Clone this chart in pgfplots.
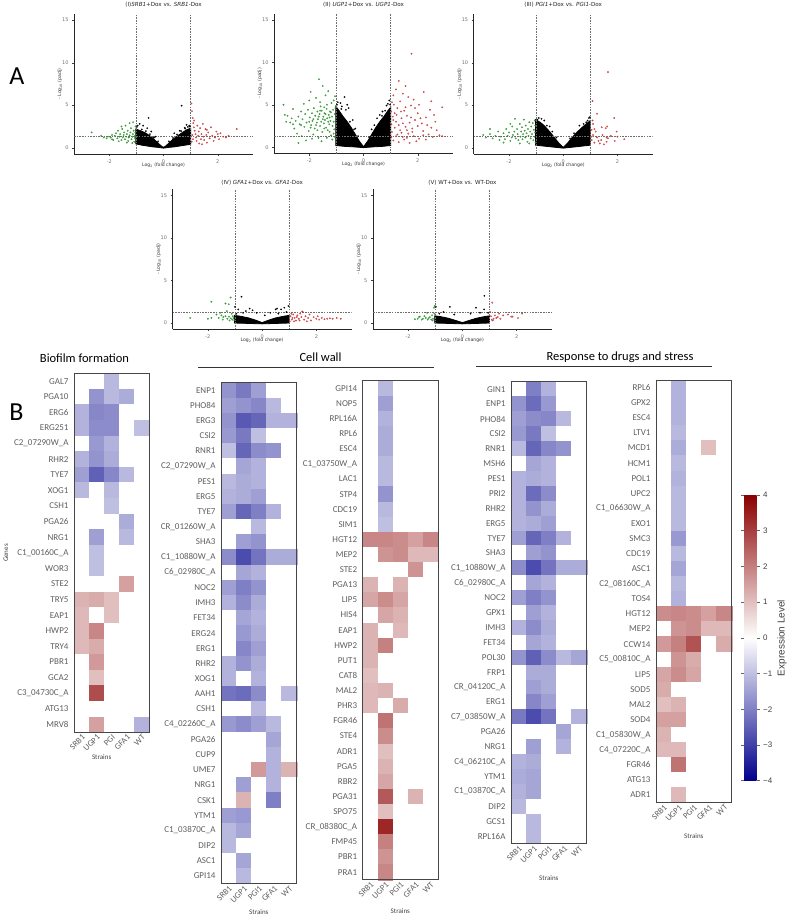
\documentclass[border=0pt]{standalone}
\usepackage{fontspec}
\setmainfont{Carlito}
\newfontfamily\dejavu{DejaVu Sans}
\newfontfamily\arialf{Liberation Sans}
\usepackage{pgfplots}
\usepackage{pgfplotstable}
\pgfplotsset{compat=1.18}
\usetikzlibrary{calc}

\definecolor{downgreen}{RGB}{45,165,45}
\definecolor{upred}{RGB}{228,60,60}
\definecolor{dashgray}{RGB}{110,110,110}
\definecolor{genetext}{RGB}{95,95,95}
\definecolor{framegray}{RGB}{70,70,70}

% heat-map cells (one mark per cell, sized to the row/column pitch)
\pgfdeclareplotmark{cellA}{\pgfpathrectangle{\pgfpoint{-7.53pt}{-7.81pt}}{\pgfpoint{15.06pt}{15.62pt}}\pgfusepath{fill,stroke}}
\pgfdeclareplotmark{cellB}{\pgfpathrectangle{\pgfpoint{-7.57pt}{-7.59pt}}{\pgfpoint{15.14pt}{15.18pt}}\pgfusepath{fill,stroke}}
\pgfdeclareplotmark{cellC}{\pgfpathrectangle{\pgfpoint{-7.53pt}{-7.56pt}}{\pgfpoint{15.06pt}{15.12pt}}\pgfusepath{fill,stroke}}
\pgfdeclareplotmark{cellD}{\pgfpathrectangle{\pgfpoint{-7.57pt}{-7.45pt}}{\pgfpoint{15.14pt}{14.90pt}}\pgfusepath{fill,stroke}}
\pgfdeclareplotmark{cellE}{\pgfpathrectangle{\pgfpoint{-7.57pt}{-7.54pt}}{\pgfpoint{15.14pt}{15.08pt}}\pgfusepath{fill,stroke}}

\pgfplotsset{
  colormap={expr}{rgb255=(0,0,139) rgb255=(255,255,255) rgb255=(139,0,0)},
  volc/.style={
    scale only axis, width=179pt, height=140pt,
    xmin=-3.3, xmax=3.3, ymin=-0.74, ymax=15.73,
    axis x line*=bottom, axis y line*=left,
    axis line style={-, black!85, line width=0.6pt},
    xtick={-2,0,2}, xticklabels={-2,0,2},
    ytick={0,5,10,15}, yticklabels={0,5,10,15},
    tick align=outside, major tick length=2pt,
    tick style={black!75, line width=0.4pt},
    tick label style={font=\dejavu\fontsize{5}{6}\selectfont, text=black!55},
    every axis title/.style={at={(axis description cs:0.5,1)}, anchor=center,
      font=\dejavu\fontsize{5.6}{6.5}\selectfont, text=black!85},
    every axis x label/.style={at={(axis description cs:0.5,0)}, anchor=center,
      yshift=-11pt, font=\dejavu\fontsize{4.6}{5.5}\selectfont, text=black!80},
    every axis y label/.style={at={(axis description cs:0,0.5)}, anchor=center,
      xshift=-14pt, rotate=90, font=\dejavu\fontsize{4.6}{5.5}\selectfont, text=black!80},
    xlabel={Log\textsubscript{2} (fold change)},
    ylabel={- Log\textsubscript{10} (padj)},
  },
  dashref/.style={dash pattern=on 1.6pt off 1.1pt, dashgray, line width=0.4pt, forget plot},
  core/.style={fill=black, draw=black, line width=0.8pt, forget plot},
  nspts/.style={only marks, mark=*, mark size=0.8pt, mark options={draw=black, fill=black, line width=0.1pt}},
  downpts/.style={only marks, mark=*, mark size=0.8pt, mark options={draw=downgreen!80!black, fill=downgreen, fill opacity=0.8, line width=0.15pt}},
  uppts/.style={only marks, mark=*, mark size=0.8pt, mark options={draw=upred!80!black, fill=upred, fill opacity=0.8, line width=0.15pt}},
  hm/.style={
    scale only axis, width=75.5pt,
    xmin=-0.5, xmax=4.5, y dir=reverse,
    point meta min=-4, point meta max=4,
    xtick={0,...,4}, xticklabels={SRB1,UGP1,PGI1,GFA1,WT},
    major tick length=0pt,
    axis line style={draw=none},
    yticklabel style={font=\fontsize{9}{10}\selectfont, text=genetext, xshift=-2pt},
    xticklabel style={rotate=45, anchor=north east, inner sep=1pt, font=\fontsize{8.5}{9}\selectfont, text=genetext},
    every axis x label/.style={at={(axis description cs:0.5,0)}, anchor=center, font=\fontsize{7}{8}\selectfont, text=black!75},
    xlabel={Strains},
  },
  cellplot/.style={scatter, only marks, point meta=explicit,
    scatter/use mapped color={draw=mapped color, fill=mapped color},
    mark options={line width=0.25pt}},
}

\newcommand\reflines{%
  \addplot[dashref] coordinates {(-1,-0.74) (-1,15.73)};
  \addplot[dashref] coordinates {(1,-0.74) (1,15.73)};
  \addplot[dashref] coordinates {(-3.3,1.3) (3.3,1.3)};}
% frame round a finished heat map
\newcommand\hmframe[1]{\draw[framegray, line width=0.9pt] (#1.south west) rectangle (#1.north east);}

% expression levels, columns: SRB1 UGP1 PGI1 GFA1 WT
\pgfplotstableread{
s1 s2 s3 s4 s5
0 0 -1.1 0 0
0 -1.7 -1.1 -1.3 0
-1.2 -1.9 -1.8 0 0
-1.2 -1.8 -1.8 0 -1.0
0 -1.6 -1.2 0 0
-1.2 -1.7 -1.3 0 0
-1.5 -2.5 -1.9 -1.1 0
-1.1 0 -1.1 0 0
0 0 -1.0 0 0
0 0 0 -1.3 0
0 -1.5 0 -1.1 0
0 -1.0 0 0 0
0 -1.0 0 0 0
0 0 0 1.5 0
1.2 1.3 1.0 0 0
1.1 0 1.0 0 0
1.1 1.9 0 0 0
1.1 1.3 0 0 0
0 1.6 0 0 0
0 1.0 0 0 0
0 2.8 0 0 0
0 0 0 0 0
0 1.5 0 0 -1.2
}\biofilm

\pgfplotstableread{
s1 s2 s3 s4 s5
-1.7 -2.1 -1.5 0 0
-1.5 -1.7 -1.9 -1.1 0
-1.7 -2.6 -2.4 -1.2 -1.2
-1.6 -2.1 -1.0 0 0
-1.0 -2.4 -1.8 -1.7 0
0 -1.4 -1.2 0 0
-1.1 -1.3 -1.2 0 0
-1.2 -1.3 -1.5 0 0
-1.5 -2.4 -2.0 -1.2 0
0 0 -1.1 0 0
0 -1.5 -1.7 0 0
-1.8 -2.8 -2.2 -1.3 -1.3
0 -1.4 -1.2 0 0
-1.5 -2.0 -1.7 0 0
-1.2 -1.8 -1.3 0 0
0 -1.4 -1.2 0 0
0 -1.6 -1.3 0 0
0 -1.9 -1.5 0 0
-1.2 -1.7 -1.3 0 0
-1.2 0 -1.2 0 0
-2.2 -2.3 -1.8 0 -1.1
0 0 -1.1 0 0
-1.6 -1.8 -1.5 -1.1 0
0 0 0 -1.4 0
0 0 0 -1.2 0
0 0 1.6 -1.2 1.2
0 -1.5 0 -1.2 0
0 1.2 0 -2.0 0
-1.5 -1.6 0 0 0
-1.1 -1.4 0 0 0
-1.1 0 0 0 0
0 -1.4 0 0 0
0 -1.1 0 0 0
}\cellwallA

\pgfplotstableread{
s1 s2 s3 s4 s5
0 -1.1 0 0 0
0 -1.5 0 0 0
0 -1.2 0 0 0
0 -1.3 0 0 0
0 -1.3 0 0 0
0 -1.1 0 0 0
0 -1.1 0 0 0
0 -1.7 0 0 0
0 -1.1 0 0 0
0 -1.0 0 0 0
1.9 1.9 1.8 1.5 1.9
0 1.7 1.8 1.1 1.1
0 0 0 1.7 0
1.2 0 1.2 0 0
1.4 1.8 1.4 0 0
0 1.4 1.2 0 0
1.2 0 1.1 0 0
1.2 2.0 0 0 0
1.2 0 0 0 0
1.0 0 0 0 0
1.1 1.2 0 0 0
1.1 0 1.3 0 0
0 2.2 0 0 0
0 1.8 0 0 0
0 1.0 0 0 0
0 1.2 0 0 0
0 1.4 0 0 0
0 2.6 0 1.2 0
0 1.0 0 0 0
0 3.4 0 0 0
0 2.0 0 0 0
0 1.7 0 0 0
0 1.9 0 0 0
}\cellwallB

\pgfplotstableread{
s1 s2 s3 s4 s5
0 -2.0 -1.2 0 0
-1.7 -2.3 -1.6 0 0
-1.5 -1.8 -1.9 -1.1 0
-1.6 -2.1 -1.0 0 0
-1.1 -2.4 -1.9 -1.7 0
0 -1.4 -1.2 0 0
-1.2 -1.3 -1.2 0 0
-1.2 -2.3 -1.8 0 0
-1.2 -1.7 -1.3 0 0
-1.2 -1.3 -1.5 0 0
-1.5 -2.4 -2.0 -1.2 0
0 -1.5 -1.7 0 0
-1.8 -2.8 -2.2 -1.3 -1.3
0 -1.4 -1.2 0 0
-1.5 -2.0 -1.7 0 0
0 -1.5 -1.2 0 0
-1.2 -1.8 -1.3 0 0
0 -1.4 -1.2 0 0
-1.7 -2.5 -1.8 -1.1 -1.4
0 -1.3 -1.3 0 0
0 -1.5 -1.3 0 0
0 -1.9 -1.5 0 0
-2.1 -2.8 -2.2 0 -1.2
0 0 0 -1.4 0
0 -1.5 0 -1.2 0
-1.2 -1.3 0 0 0
-1.3 -1.4 0 0 0
-1.2 -1.4 0 0 0
-1.1 0 0 0 0
0 -1.1 0 0 0
0 -1.1 0 0 0
}\drugsA

\pgfplotstableread{
s1 s2 s3 s4 s5
0 -1.2 0 0 0
0 -1.2 0 0 0
0 -1.2 0 0 0
0 -1.1 0 0 0
0 -1.3 0 1.0 0
0 -1.1 0 0 0
0 -1.2 0 0 0
0 -1.1 0 0 0
0 -1.1 0 0 0
0 -1.1 0 0 0
0 -1.6 0 0 0
0 -1.1 0 0 0
0 -1.4 0 0 0
0 -1.1 0 0 0
0 -1.2 0 0 0
1.8 1.9 1.8 1.5 1.9
0 1.7 1.8 1.1 1.1
1.6 2.0 2.7 0 1.3
0 1.7 1.3 0 0
1.4 1.8 1.4 0 0
1.3 0 0 0 0
1.0 1.2 0 0 0
1.5 1.5 0 0 0
1.2 0 0 0 0
1.1 1.1 0 0 0
0 2.2 0 0 0
0 0 0 0 0
0 1.1 0 0 0
}\drugsB

\begin{document}
\begin{tikzpicture}[x=1pt,y=1pt]
\useasboundingbox (0,0) rectangle (788,-918);

% ---------------- panel A: volcano plots ----------------
\node[font=\fontsize{26}{28}\selectfont] at (17,-76) {A};

% (I) SRB1
\begin{axis}[volc, at={(74pt,-154pt)}, anchor=south west,
  title={(I)\textit{SRB1}+Dox vs. \textit{SRB1}-Dox}, title style={yshift=9pt}]
\addplot[core] coordinates {(-1.02,0.45) (-1.02,2.2) (-0.85,2.0) (-0.7,1.8) (-0.5,1.4) (-0.35,1.0) (-0.2,0.55) (-0.08,0.2) (0,0.04) (0.08,0.2) (0.2,0.55) (0.35,1.0) (0.5,1.35) (0.7,1.8) (0.85,2.1) (1.0,2.3) (1.0,0.4) (0.8,0.3) (0.6,0.2) (0.4,0.1) (0.2,0.04) (0,-0.05) (-0.2,0.04) (-0.4,0.1) (-0.6,0.2) (-0.8,0.3)} -- cycle;
\addplot[nspts] coordinates {(0.67,4.95) (-0.55,3.5) (-0.88,2.8) (-0.75,2.6) (-0.95,2.6) (-0.6,2.3) (0.85,2.7) (0.95,2.6) (0.9,2.45) (-0.3,1.3) (0.4,1.7) (-0.98,2.45) (0.78,2.35) (-0.45,1.9) (0.6,2.0) (-0.8,2.15) (-0.65,1.95) (-0.5,1.6) (-0.35,1.2) (-0.2,0.75) (0.2,0.75) (0.35,1.15) (0.5,1.55) (0.65,1.95) (0.8,2.25) (0.97,2.5)};
\addplot[downpts] coordinates {(-2.65,1.8) (-2.1,1.1) (-2.05,1.3) (-1.95,1.2) (-1.9,1.5) (-1.85,0.9) (-1.8,1.4) (-1.75,1.7) (-1.7,1.1) (-1.68,2.0) (-1.62,1.3) (-1.6,1.6) (-1.55,0.9) (-1.52,2.2) (-1.5,1.2) (-1.47,1.5) (-1.45,1.8) (-1.42,1.0) (-1.4,2.6) (-1.38,1.3) (-1.35,1.6) (-1.32,2.0) (-1.3,0.8) (-1.28,1.2) (-1.25,1.45) (-1.22,1.8) (-1.2,2.3) (-1.18,1.0) (-1.15,1.3) (-1.13,1.6) (-1.1,2.0) (-1.08,0.7) (-1.06,1.15) (-1.05,1.4) (-1.04,1.75) (-1.03,2.5) (-1.12,3.0) (-1.25,2.9) (-1.55,2.5) (-2.3,1.4) (-1.65,0.75) (-1.35,0.6) (-1.15,0.55) (-1.9,1.0) (-2.2,1.2)};
\addplot[uppts] coordinates {(1.03,5.2) (1.05,4.3) (1.08,3.5) (1.1,2.9) (1.12,2.4) (1.15,2.0) (1.18,1.6) (1.2,1.2) (1.22,0.8) (1.25,2.6) (1.28,1.4) (1.3,1.9) (1.32,0.5) (1.35,2.3) (1.38,1.0) (1.4,1.6) (1.45,2.8) (1.48,1.3) (1.5,0.9) (1.55,2.2) (1.58,1.5) (1.6,0.6) (1.65,1.8) (1.7,1.1) (1.75,2.4) (1.8,1.4) (1.85,0.8) (1.9,1.2) (2.0,1.6) (2.05,1.0) (2.1,1.7) (2.2,1.3) (2.4,1.4) (2.7,2.2) (1.04,0.7) (1.06,1.5) (1.09,1.0) (1.13,3.2) (1.6,2.1) (1.95,1.9) (2.3,1.2) (1.42,0.4)};
\reflines
\end{axis}

% (II) UGP1
\begin{axis}[volc, at={(274pt,-153.5pt)}, anchor=south west,
  title={(II) \textit{UGP1}+Dox vs. \textit{UGP1}-Dox}, title style={yshift=9pt}]
\addplot[core] coordinates {(-1.02,0.2) (-1.02,4.8) (-0.9,4.3) (-0.75,3.6) (-0.6,3.0) (-0.45,2.3) (-0.3,1.5) (-0.15,0.7) (0,0.05) (0.15,0.7) (0.3,1.5) (0.45,2.3) (0.6,3.0) (0.75,3.6) (0.9,4.3) (1.0,4.7) (1.0,0.2) (0.7,0.1) (0.4,0.05) (0,-0.05) (-0.4,0.05) (-0.7,0.1)} -- cycle;
\addplot[nspts] coordinates {(-0.7,5.9) (-0.55,4.6) (-0.6,5.0) (-0.85,5.2) (-0.95,5.3) (0.95,5.5) (0.85,4.9) (0.7,4.2) (-0.4,3.2) (0.5,3.4) (-0.8,4.8) (0.9,5.1) (0.6,3.8) (-0.3,2.2) (0.3,2.1) (-0.65,4.4) (-0.2,1.3) (0.2,1.2) (-0.98,5.0) (-0.82,4.5) (-0.5,3.0) (-0.35,2.1) (0.4,2.6) (0.68,3.7) (0.8,4.3) (0.98,5.0)};
\addplot[downpts] coordinates {(-2.95,5.0) (-2.9,3.8) (-2.85,3.0) (-2.8,3.7) (-2.7,2.9) (-2.65,3.4) (-2.6,4.5) (-2.55,2.2) (-2.5,3.1) (-2.45,1.6) (-2.4,3.6) (-2.35,2.7) (-2.3,4.2) (-2.28,1.3) (-2.25,3.3) (-2.2,5.1) (-2.18,2.4) (-2.15,3.9) (-2.12,0.8) (-2.1,2.9) (-2.05,4.4) (-2.02,1.9) (-2.0,5.5) (-1.98,3.5) (-1.95,6.5) (-1.93,2.6) (-1.9,4.0) (-1.88,3.1) (-1.85,1.5) (-1.83,4.6) (-1.8,2.2) (-1.78,3.7) (-1.75,5.8) (-1.72,2.9) (-1.7,4.2) (-1.68,3.3) (-1.66,1.1) (-1.64,8.0) (-1.62,3.9) (-1.6,2.5) (-1.58,4.8) (-1.56,3.0) (-1.54,4.3) (-1.52,1.8) (-1.5,7.2) (-1.48,3.6) (-1.46,2.8) (-1.44,4.0) (-1.42,3.2) (-1.4,6.1) (-1.38,2.3) (-1.36,4.5) (-1.34,3.4) (-1.32,2.0) (-1.3,6.6) (-1.28,3.8) (-1.26,2.7) (-1.24,4.2) (-1.22,3.1) (-1.2,1.4) (-1.18,5.2) (-1.16,3.6) (-1.14,2.5) (-1.12,4.4) (-1.1,3.0) (-1.08,2.1) (-1.06,3.9) (-1.05,1.2) (-1.04,4.6) (-1.03,2.8) (-1.02,3.4) (-1.15,0.9) (-1.35,1.1) (-1.55,0.7) (-1.9,1.0) (-2.4,0.5) (-1.7,2.0) (-1.45,2.2) (-1.25,1.8) (-1.1,1.6) (-2.0,3.0) (-1.85,3.3) (-1.65,3.6) (-1.4,3.9) (-1.2,4.1) (-1.6,4.3) (-1.3,3.0) (-1.5,3.3) (-1.75,2.6) (-1.95,2.3) (-2.3,2.6) (-2.6,2.7) (-1.35,5.0) (-1.6,5.3) (-1.1,5.5) (-1.05,6.0) (-1.45,4.7) (-1.25,3.5)};
\addplot[uppts] coordinates {(1.77,11.0) (1.3,7.8) (1.55,7.2) (1.2,6.8) (2.22,6.5) (1.45,6.3) (1.1,6.1) (2.9,4.7) (1.65,5.9) (1.85,5.6) (2.05,5.0) (1.35,5.4) (1.05,5.3) (2.6,3.8) (2.45,4.4) (1.75,4.9) (1.25,4.6) (1.15,4.0) (1.5,4.3) (2.3,3.5) (2.0,4.0) (1.9,3.2) (1.6,3.7) (1.4,3.4) (1.08,3.6) (1.2,3.0) (1.3,2.6) (1.7,2.9) (2.15,2.8) (2.5,2.3) (2.7,2.0) (2.4,1.5) (2.2,1.9) (2.0,2.5) (1.8,2.2) (1.55,2.4) (1.35,2.0) (1.15,2.3) (1.05,1.8) (1.25,1.5) (1.45,1.2) (1.65,1.6) (1.85,1.3) (2.05,1.0) (2.3,0.9) (2.55,1.2) (2.8,1.4) (1.1,0.8) (1.3,0.6) (1.5,0.9) (1.7,0.5) (1.95,0.7) (1.2,1.3) (1.4,1.7) (1.6,2.0) (1.8,1.8) (1.03,2.7) (1.1,3.2) (1.22,3.8) (1.38,4.2) (1.55,4.7) (2.1,3.4) (2.35,2.6) (2.65,3.0) (1.02,4.2) (1.12,5.0) (1.9,4.6) (2.5,5.4) (1.03,1.2) (1.6,1.1) (2.2,1.4) (2.9,1.3) (1.75,3.5) (1.45,2.8)};
\reflines
\end{axis}

% (III) PGI1
\begin{axis}[volc, at={(473.7pt,-154pt)}, anchor=south west,
  title={(III) \textit{PGI1}+Dox vs. \textit{PGI1}-Dox}, title style={yshift=9pt}]
\addplot[core] coordinates {(-1.02,0.3) (-1.02,3.3) (-0.85,3.0) (-0.7,2.6) (-0.5,1.9) (-0.3,1.1) (-0.15,0.5) (0,0.04) (0.15,0.5) (0.3,1.1) (0.5,1.8) (0.7,2.4) (0.85,2.8) (1.0,3.2) (1.0,0.3) (0.6,0.15) (0.3,0.05) (0,-0.05) (-0.3,0.05) (-0.6,0.15)} -- cycle;
\addplot[nspts] coordinates {(-0.9,3.5) (-0.7,3.2) (-0.8,3.4) (0.95,3.5) (0.9,3.2) (-0.5,2.5) (0.6,2.6) (-0.95,3.3) (0.85,3.0) (-0.6,2.6) (-0.4,1.9) (-0.25,1.2) (0.25,1.1) (0.4,1.7) (0.75,2.8) (0.98,3.6)};
\addplot[downpts] coordinates {(-2.95,1.5) (-2.85,1.2) (-2.7,1.6) (-2.6,1.1) (-2.5,1.4) (-2.4,1.9) (-2.35,0.9) (-2.3,1.3) (-2.2,1.7) (-2.15,1.0) (-2.1,2.2) (-2.05,1.4) (-2.0,1.8) (-1.95,0.8) (-1.9,1.2) (-1.88,2.5) (-1.85,1.5) (-1.8,1.9) (-1.78,3.4) (-1.75,1.1) (-1.7,2.2) (-1.68,1.6) (-1.65,0.9) (-1.6,2.8) (-1.58,1.3) (-1.55,1.9) (-1.52,2.4) (-1.5,1.0) (-1.48,1.6) (-1.45,3.3) (-1.42,2.0) (-1.4,1.2) (-1.38,2.6) (-1.35,1.7) (-1.32,0.7) (-1.3,2.2) (-1.28,1.4) (-1.25,3.0) (-1.22,1.9) (-1.2,1.1) (-1.18,2.5) (-1.15,1.6) (-1.12,2.9) (-1.1,0.9) (-1.08,2.1) (-1.06,1.3) (-1.05,3.2) (-1.04,1.8) (-1.03,2.6) (-1.02,0.6) (-1.6,0.5) (-2.2,0.6) (-1.25,0.5) (-2.7,2.2) (-1.95,2.8)};
\addplot[uppts] coordinates {(1.65,8.9) (1.08,5.5) (1.25,4.0) (1.88,3.5) (1.62,2.5) (1.57,2.3) (1.42,2.4) (1.97,1.9) (1.6,1.2) (1.65,1.1) (2.25,1.0) (1.3,0.8) (1.1,1.5) (1.05,2.1) (1.15,0.6) (1.35,0.5) (1.5,0.4) (1.2,1.9) (1.05,0.9) (1.1,2.8) (1.45,1.5) (1.75,1.4) (1.9,0.8) (1.25,1.2) (1.4,0.9) (2.0,1.3) (1.08,3.2) (1.6,0.7) (1.05,1.3) (1.15,2.2)};
\reflines
\end{axis}

% (IV) GFA1
\begin{axis}[volc, at={(172.6pt,-329.3pt)}, anchor=south west,
  title={(IV) \textit{GFA1}+Dox vs. \textit{GFA1}-Dox}, title style={yshift=7pt}]
\addplot[core] coordinates {(-1.02,0.0) (-1.02,0.9) (-0.8,0.8) (-0.5,0.6) (-0.25,0.35) (0,0.05) (0.25,0.35) (0.5,0.6) (0.8,0.8) (1.0,0.9) (1.0,0.0) (0.5,-0.05) (0,-0.1) (-0.5,-0.05)} -- cycle;
\addplot[nspts] coordinates {(-0.76,3.1) (-0.46,1.7) (-1.0,1.9) (-0.88,1.6) (-0.6,1.4) (-0.35,1.5) (0.5,1.6) (0.55,1.7) (0.7,1.6) (0.82,1.8) (0.97,2.0) (-0.2,1.2) (0.3,1.2) (-0.7,1.2) (0.9,1.3) (-0.95,1.1) (0.1,0.9) (0.6,1.1)};
\addplot[downpts] coordinates {(-1.87,2.5) (-1.16,3.0) (-1.35,2.3) (-1.23,2.2) (-2.65,0.6) (-1.87,0.6) (-1.68,1.0) (-1.55,1.2) (-1.43,0.7) (-1.35,0.8) (-1.28,0.5) (-1.22,0.75) (-1.15,0.55) (-1.1,0.4) (-1.05,0.6) (-1.08,0.8) (-1.3,1.4) (-1.45,0.4) (-1.6,0.6) (-2.0,0.5) (-1.2,0.3) (-1.12,1.1) (-1.03,0.35) (-1.5,0.9)};
\addplot[uppts] coordinates {(1.05,0.8) (1.1,0.4) (1.15,1.0) (1.2,0.6) (1.25,0.3) (1.3,0.9) (1.35,0.5) (1.4,1.1) (1.45,0.7) (1.5,1.3) (1.55,0.4) (1.6,0.8) (1.7,0.6) (1.75,1.0) (1.8,0.3) (1.9,0.7) (2.0,0.5) (2.1,0.4) (2.2,0.6) (2.3,0.45) (2.4,0.5) (2.5,0.55) (2.6,0.5) (2.75,0.6) (2.9,0.5) (1.02,0.2) (1.08,1.1) (1.18,0.2) (1.28,0.7) (1.65,0.2) (2.05,0.8) (1.12,0.6) (1.38,0.3) (1.48,1.35)};
\reflines
\end{axis}

% (V) WT
\begin{axis}[volc, at={(372.9pt,-329.3pt)}, anchor=south west,
  title={(V) WT+Dox vs. WT-Dox}, title style={yshift=7pt}]
\addplot[core] coordinates {(-1.02,0.0) (-1.02,0.85) (-0.8,0.75) (-0.5,0.55) (-0.25,0.3) (0,0.05) (0.25,0.3) (0.5,0.55) (0.8,0.75) (1.0,0.85) (1.0,0.0) (0.5,-0.05) (0,-0.1) (-0.5,-0.05)} -- cycle;
\addplot[nspts] coordinates {(0.81,3.2) (0.5,1.8) (-0.46,1.9) (-0.98,1.9) (0.8,1.6) (-0.7,1.3) (0.3,1.1) (-0.3,1.0) (0.95,1.2) (-0.85,1.1) (0.65,1.2)};
\addplot[downpts] coordinates {(-1.02,2.0) (-1.05,1.8) (-1.57,0.75) (-1.45,0.5) (-1.35,0.6) (-1.28,0.4) (-1.2,0.7) (-1.12,0.9) (-1.08,0.5) (-1.3,1.2) (-1.5,0.4) (-1.65,0.5) (-1.75,0.45) (-1.4,0.8) (-1.15,0.4) (-1.25,0.55) (-1.03,1.1) (-1.1,0.3) (-1.6,0.7)};
\addplot[uppts] coordinates {(1.1,2.4) (2.2,1.1) (1.68,1.0) (1.8,0.75) (1.85,0.75) (2.05,0.6) (1.2,0.9) (1.25,0.6) (1.15,0.5) (1.3,0.7) (1.05,0.8) (1.08,0.4) (1.4,0.5) (1.5,0.9) (1.02,1.3) (1.35,1.1) (1.12,0.3)};
\reflines
\end{axis}

% ---------------- panel B: heat maps ----------------
\node[font=\fontsize{26}{28}\selectfont] at (16.5,-412) {B};
\node[font=\fontsize{12.5}{14}\selectfont] at (84.5,-358) {Biofilm formation};
\node[font=\fontsize{12.5}{14}\selectfont] at (320.5,-357) {Cell wall};
\node[font=\fontsize{12.5}{14}\selectfont] at (620,-357) {Response to drugs and stress};
\draw[black!80, line width=0.8pt] (198,-367.3) -- (434,-367.3);
\draw[black!80, line width=0.8pt] (476,-366.7) -- (712,-366.7);
\node[rotate=90, font=\fontsize{7}{8}\selectfont, text=black!75] at (6,-553) {Genes};

% Biofilm formation
\begin{axis}[hm, name=hmA, at={(74pt,-373.3pt)}, anchor=north west, width=75.3pt, height=359pt,
  ymin=-0.5, ymax=22.5, ytick={0,...,22},
  xticklabels={SRB1,UGP1,PGI,GFA1,WT}, xlabel style={yshift=-25pt, xshift=-10pt},
  yticklabels={GAL7,PGA10,ERG6,ERG251,C2\_07290W\_A,RHR2,TYE7,XOG1,CSH1,PGA26,NRG1,C1\_00160C\_A,WOR3,STE2,TRY5,EAP1,HWP2,TRY4,PBR1,GCA2,C3\_04730C\_A,ATG13,MRV8}]
\pgfplotsinvokeforeach{1,...,5}{\addplot[cellplot, mark=cellA] table[x expr=#1-1, y expr=\coordindex, meta=s#1]{\biofilm};}
\end{axis}
\hmframe{hmA}

% Cell wall, first block
\begin{axis}[hm, name=hmB, at={(221pt,-382.6pt)}, anchor=north west, width=75.7pt, height=501pt,
  ymin=-0.5, ymax=32.5, ytick={0,...,32}, xlabel style={yshift=-29pt},
  yticklabels={ENP1,PHO84,ERG3,CSI2,RNR1,C2\_07290W\_A,PES1,ERG5,TYE7,CR\_01260W\_A,SHA3,C1\_10880W\_A,C6\_02980C\_A,NOC2,IMH3,FET34,ERG24,ERG1,RHR2,XOG1,AAH1,CSH1,C4\_02260C\_A,PGA26,CUP9,UME7,NRG1,CSK1,YTM1,C1\_03870C\_A,DIP2,ASC1,GPI14}]
\pgfplotsinvokeforeach{1,...,5}{\addplot[cellplot, mark=cellB] table[x expr=#1-1, y expr=\coordindex, meta=s#1]{\cellwallA};}
\end{axis}
\hmframe{hmB}

% Cell wall, second block
\begin{axis}[hm, name=hmC, at={(362.7pt,-380.7pt)}, anchor=north west, width=75.3pt, height=499pt,
  ymin=-0.5, ymax=32.5, ytick={0,...,32}, xlabel style={yshift=-31pt},
  yticklabels={GPI14,NOP5,RPL16A,RPL6,ESC4,C1\_03750W\_A,LAC1,STP4,CDC19,SIM1,HGT12,MEP2,STE2,PGA13,LIP5,HIS4,EAP1,HWP2,PUT1,CAT8,MAL2,PHR3,FGR46,STE4,ADR1,PGA5,RBR2,PGA31,SPO75,CR\_08380C\_A,FMP45,PBR1,PRA1}]
\pgfplotsinvokeforeach{1,...,5}{\addplot[cellplot, mark=cellC] table[x expr=#1-1, y expr=\coordindex, meta=s#1]{\cellwallB};}
\end{axis}
\hmframe{hmC}

% Response to drugs and stress, first block
\begin{axis}[hm, name=hmD, at={(511pt,-381.7pt)}, anchor=north west, width=75.7pt, height=461.9pt,
  ymin=-0.5, ymax=30.5, ytick={0,...,30}, xlabel style={yshift=-35pt},
  yticklabels={GIN1,ENP1,PHO84,CSI2,RNR1,MSH6,PES1,PRI2,RHR2,ERG5,TYE7,SHA3,C1\_10880W\_A,C6\_02980C\_A,NOC2,GPX1,IMH3,FET34,POL30,FRP1,CR\_04120C\_A,ERG1,C7\_03850W\_A,PGA26,NRG1,C4\_06210C\_A,YTM1,C1\_03870C\_A,DIP2,GCS1,RPL16A}]
\pgfplotsinvokeforeach{1,...,5}{\addplot[cellplot, mark=cellD] table[x expr=#1-1, y expr=\coordindex, meta=s#1]{\drugsA};}
\end{axis}
\hmframe{hmD}

% Response to drugs and stress, second block, with the colour scale
\begin{axis}[hm, name=hmE, at={(656pt,-380.2pt)}, anchor=north west, width=75.7pt, height=422.3pt,
  ymin=-0.5, ymax=27.5, ytick={0,...,27}, xlabel style={yshift=-34pt},
  yticklabels={RPL6,GPX2,ESC4,LTV1,MCD1,HCM1,POL1,UPC2,C1\_06630W\_A,EXO1,SMC3,CDC19,ASC1,C2\_08160C\_A,TOS4,HGT12,MEP2,CCW14,C5\_00810C\_A,LIP5,SOD5,MAL2,SOD4,C1\_05830W\_A,C4\_07220C\_A,FGR46,ATG13,ADR1},
  colorbar, colorbar shift/.style={},
  colorbar style={at={($(parent axis.north east)+(12.3pt,-114.8pt)$)}, anchor=north west,
    scale only axis, width=12.7pt, height=285.7pt,
    ytick={-4,-3,...,4}, yticklabels={−4,−3,−2,−1,0,1,2,3,4},
    yticklabel style={font=\arialf\fontsize{8}{9}\selectfont, text=black!75},
    axis line style={draw=none}, tick align=outside, major tick length=3pt,
    ytick style={black!60, line width=0.5pt}}]
\pgfplotsinvokeforeach{1,...,5}{\addplot[cellplot, mark=cellE] table[x expr=#1-1, y expr=\coordindex, meta=s#1]{\drugsB};}
\end{axis}
\hmframe{hmE}
\node[rotate=90, font=\arialf\fontsize{10}{12}\selectfont, text=black!75] at (782,-638) {Expression Level};

\end{tikzpicture}
\end{document}
